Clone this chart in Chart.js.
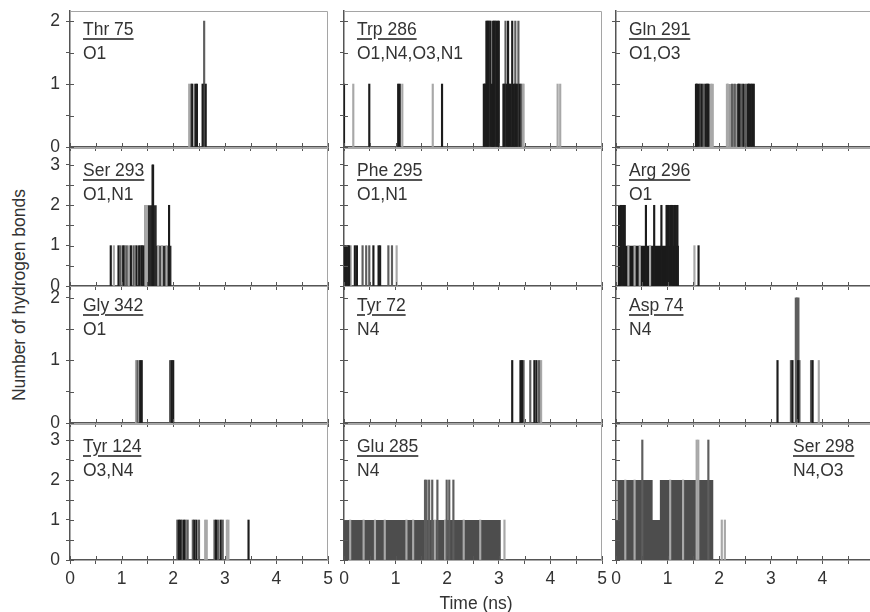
<!DOCTYPE html>
<html>
<head>
<meta charset="utf-8">
<script src="https://cdn.jsdelivr.net/npm/chart.js@4.4.1/dist/chart.umd.min.js"></script>
<style>
  html, body { margin:0; padding:0; width:870px; height:612px; overflow:hidden; background:#fff; }
  #stage { position:relative; width:870px; height:612px; overflow:hidden; }
  canvas { position:absolute; }
  .lbl { position:absolute; font-family:"Liberation Sans", Arial, sans-serif; font-size:17.5px; line-height:24px; color:#333; white-space:nowrap; }
  .lbl .res { text-decoration:underline; text-decoration-thickness:1.5px; text-underline-offset:3px; text-decoration-color:#555; }
  .title { position:absolute; font-family:"Liberation Sans", Arial, sans-serif; font-size:17.5px; color:#333; white-space:nowrap; }
</style>
</head>
<body>
<div id="stage"></div>
<script>
// ---------------- data (time in ns, number of hydrogen bonds) ----------------
const residues  = ['Thr 75','Trp 286','Gln 291','Ser 293','Phe 295','Arg 296','Gly 342','Tyr 72','Asp 74','Tyr 124','Glu 285','Ser 298'];
const atomSites = ['O1','O1,N4,O3,N1','O1,O3','O1,N1','O1,N1','O1','O1','N4','N4','O3,N4','N4','N4,O3'];
const xTickLabels = [0,1,2,3,4,5];
const yTickLabelsByRow = [[0,1,2],[0,1,2,3],[0,1,2],[0,1,2,3]];

const thr75Dark  = [[2.37,1],[2.43,1],[2.46,1],[2.57,1],[2.63,1]];
const thr75Mid   = [[2.35,1],[2.60,2]];
const thr75Light = [[2.31,1],[2.59,1]];
const thr75Block = [];

const trp286Dark  = [[0.0,1],[0.49,1],[1.05,1],[1.08,1],[1.90,1],[2.71,1],[2.73,1],[2.76,2],[2.78,2],[2.80,2],[2.84,2],[2.87,1],[2.89,2],[2.91,2],[2.95,2],[2.98,2],[3.00,2],[3.09,1],[3.11,1],[3.15,1],[3.18,2],[3.20,1],[3.23,1],[3.26,2],[3.29,1],[3.32,1],[3.35,1],[3.40,1]];
const trp286Mid   = [[2.74,1],[2.82,2],[2.93,2],[3.13,2],[3.32,2],[3.38,2],[3.43,1]];
const trp286Light = [[0.18,1],[1.13,1],[1.72,1],[3.46,1],[3.48,1],[4.14,1],[4.19,1]];
const trp286Block = [];

const gln291Dark  = [[1.55,1],[1.57,1],[1.60,1],[1.66,1],[1.74,1],[1.77,1],[1.79,1],[2.37,1],[2.39,1],[2.47,1],[2.56,1],[2.58,1],[2.61,1],[2.64,1],[2.67,1]];
const gln291Mid   = [[1.63,1],[1.70,1],[2.25,1],[2.30,1],[2.43,1],[2.52,1]];
const gln291Light = [[2.15,1],[2.17,1],[1.84,1],[1.87,1]];
const gln291Block = [[1.545,1],[1.89,0],[2.19,1],[2.68,0]];

const ser293Dark  = [[0.79,1],[0.94,1],[1.03,1],[1.18,1],[1.29,1],[1.34,1],[1.39,1],[1.42,1],[1.60,3],[1.61,3],[1.92,2]];
const ser293Mid   = [[0.98,1],[1.06,1],[1.10,1],[1.23,1],[1.37,1]];
const ser293Light = [[0.85,1],[1.14,1],[1.26,1],[1.46,2],[1.49,2],[1.71,1],[1.78,1],[1.87,1]];
const ser293Block = [[1.44,2],[1.68,1],[1.97,0]];

const phe295Dark  = [[0.02,1],[0.05,1],[0.08,1],[0.10,1],[0.21,1],[0.25,1],[0.57,1],[0.67,1],[0.70,1]];
const phe295Mid   = [[0.36,1],[0.43,1],[0.49,1],[0.86,1],[0.93,1]];
const phe295Light = [[0.13,1],[1.02,1]];
const phe295Block = [];

const arg296Dark  = [[0.06,2],[0.08,2],[0.11,2],[0.14,2],[0.17,2],[0.58,2],[0.74,2],[0.88,2],[0.98,2],[1.00,2],[1.02,2],[1.05,2],[1.08,2],[1.10,2],[1.13,2],[1.16,2],[1.19,2],[1.60,1]];
const arg296Mid   = [[0.12,2],[1.07,2]];
const arg296Light = [[0.24,1],[0.36,1],[0.46,1],[0.66,1],[1.52,1]];
const arg296Block = [[0.03,1],[1.22,0]];

const gly342Dark  = [[1.36,1],[1.39,1],[1.97,1],[2.00,1]];
const gly342Mid   = [[1.31,1],[1.94,1]];
const gly342Light = [[1.28,1]];
const gly342Block = [];

const tyr72Dark  = [[3.26,1],[3.42,1],[3.45,1],[3.69,1],[3.73,1]];
const tyr72Mid   = [[3.48,1],[3.61,1],[3.78,1]];
const tyr72Light = [[3.82,1]];
const tyr72Block = [];

const asp74Dark  = [[3.13,1],[3.42,1],[3.53,1],[3.81,1]];
const asp74Mid   = [[3.39,1],[3.485,2],[3.51,2],[3.535,2],[3.555,1],[3.78,1]];
const asp74Light = [[3.93,1]];
const asp74Block = [];

const tyr124Dark  = [[2.11,1],[2.14,1],[2.21,1],[2.41,1],[2.45,1],[2.83,1],[2.92,1],[3.46,1]];
const tyr124Mid   = [[2.08,1],[2.17,1],[2.24,1],[2.28,1],[2.38,1],[2.50,1],[2.80,1],[2.87,1],[2.96,1]];
const tyr124Light = [[2.62,1],[2.65,1],[3.04,1],[3.07,1]];
const tyr124Block = [];

const glu285Dark  = [];
const glu285Mid   = [[1.57,2],[1.60,2],[1.65,2],[1.71,2],[1.81,2],[1.99,2],[2.04,2],[2.12,2]];
const glu285Light = [[0.12,1],[0.38,1],[0.60,1],[0.79,1],[1.21,1],[1.34,1],[1.76,1],[1.96,1],[2.32,1],[2.64,1],[3.11,1]];
const glu285Block = [[0.0,1],[3.04,0]];

const ser298Dark  = [];
const ser298Mid   = [[0.51,3],[1.79,3]];
const ser298Light = [[1.563,3],[1.595,3],[0.18,2],[0.36,2],[1.05,2],[1.30,2],[2.05,1],[2.11,1]];
const ser298Block = [[0.0,1],[0.03,2],[0.71,1],[0.85,2],[1.89,0]];

const panelData = [
  {dark:thr75Dark,  mid:thr75Mid,  light:thr75Light,  block:thr75Block},
  {dark:trp286Dark, mid:trp286Mid, light:trp286Light, block:trp286Block},
  {dark:gln291Dark, mid:gln291Mid, light:gln291Light, block:gln291Block},
  {dark:ser293Dark, mid:ser293Mid, light:ser293Light, block:ser293Block},
  {dark:phe295Dark, mid:phe295Mid, light:phe295Light, block:phe295Block},
  {dark:arg296Dark, mid:arg296Mid, light:arg296Light, block:arg296Block},
  {dark:gly342Dark, mid:gly342Mid, light:gly342Light, block:gly342Block},
  {dark:tyr72Dark,  mid:tyr72Mid,  light:tyr72Light,  block:tyr72Block},
  {dark:asp74Dark,  mid:asp74Mid,  light:asp74Light,  block:asp74Block},
  {dark:tyr124Dark, mid:tyr124Mid, light:tyr124Light, block:tyr124Block},
  {dark:glu285Dark, mid:glu285Mid, light:glu285Light, block:glu285Block},
  {dark:ser298Dark, mid:ser298Mid, light:ser298Light, block:ser298Block}
];

// ---------------- layout / style ----------------
const COL_LEFT = [70, 344, 616];
const PLOT_W = 258;
const ROWS = [
  {top:11,  h:136, max:2.16, lblOff:24},
  {top:148, h:138, max:3.42, lblOff:28.5},
  {top:286, h:137, max:2.19, lblOff:25},
  {top:424, h:136, max:3.40, lblOff:28}
];
const BLOCK_SHADE = ['#777','#777','#9a9a9a','#2a2a2a','#777','#1a1a1a','#777','#777','#777','#777','#4d4d4d','#4d4d4d'];
const SHADE = {dark:'#1c1c1c', mid:'#5e5e5e', light:'#a8a8a8'};
const FONT = {family:'"Liberation Sans", Arial, sans-serif', size:17.5};
const AXIS = '#555';
const PAD_R = 10;

const frameAndInnerTicks = {
  id:'frameAndInnerTicks',
  afterDraw(chart){
    const {ctx, chartArea:a, scales:{x, y}} = chart;
    ctx.save();
    ctx.strokeStyle = '#a5a5a5';
    ctx.lineWidth = 1;
    ctx.beginPath();
    ctx.moveTo(a.left, a.top + 0.5);
    ctx.lineTo(a.right - 0.5, a.top + 0.5);
    ctx.lineTo(a.right - 0.5, a.bottom);
    ctx.stroke();
    ctx.strokeStyle = AXIS;
    ctx.beginPath();
    x.ticks.forEach(t => { const px = Math.round(x.getPixelForValue(t.value)) + 0.5; ctx.moveTo(px, a.bottom); ctx.lineTo(px, a.bottom - 4); });
    y.ticks.forEach(t => { const py = Math.round(y.getPixelForValue(t.value)) + 0.5; ctx.moveTo(a.left, py); ctx.lineTo(a.left + 4, py); });
    ctx.stroke();
    ctx.restore();
  }
};

const stage = document.getElementById('stage');
const toXY = arr => arr.map(([t, n]) => ({x:t, y:n}));

panelData.forEach((p, i) => {
  const r = Math.floor(i / 3), c = i % 3;
  const row = ROWS[r];
  const L = COL_LEFT[c], T = row.top, H = row.h, W = PLOT_W;
  const cv = document.createElement('canvas');
  cv.width = W + 40 + PAD_R; cv.height = H + 33;
  cv.style.left = (L - 40) + 'px';
  cv.style.top = (T - 1) + 'px';
  stage.appendChild(cv);

  const datasets = [
    {type:'bar', data:toXY(p.dark),  backgroundColor:SHADE.dark,  order:0},
    {type:'bar', data:toXY(p.mid),   backgroundColor:SHADE.mid,   order:1},
    {type:'bar', data:toXY(p.light), backgroundColor:SHADE.light, order:2},
    {type:'line', data:toXY(p.block), stepped:true, fill:'origin', backgroundColor:BLOCK_SHADE[i],
     borderColor:'rgba(0,0,0,0)', borderWidth:0, pointRadius:0, order:3}
  ];

  new Chart(cv, {
    type:'bar',
    data:{datasets},
    options:{
      responsive:false, animation:false, events:[],
      devicePixelRatio:1,
      layout:{padding:{top:1, right:PAD_R, left:0, bottom:2}},
      datasets:{bar:{grouped:false, barThickness:1.5, borderWidth:0}},
      plugins:{legend:{display:false}, tooltip:{enabled:false}},
      scales:{
        x:{
          type:'linear', min:0, max:5, offset:false, z:1,
          border:{display:true, color:AXIS, width:1.5},
          grid:{display:true, drawOnChartArea:false, drawTicks:true, tickLength:4, color:AXIS, offset:false},
          ticks:{stepSize:0.5, autoSkip:false, maxRotation:0, padding:5, color:'#333', font:FONT,
                 callback:v => (r === 3 && xTickLabels.includes(v)) ? String(v) : ''},
          afterFit:s => { s.height = 30; s.paddingLeft = 0; s.paddingRight = 0; s.paddingTop = 0; s.paddingBottom = 0; }
        },
        y:{
          type:'linear', min:0, max:row.max, z:1,
          border:{display:true, color:AXIS, width:1.5},
          grid:{display:true, drawOnChartArea:false, drawTicks:true, tickLength:4, color:AXIS},
          ticks:{stepSize:0.5, includeBounds:false, autoSkip:false, padding:6, color:'#333', font:FONT,
                 callback:v => (c === 0 && yTickLabelsByRow[r].includes(v)) ? String(v) : ''},
          afterFit:s => { s.width = 40; s.paddingLeft = 0; s.paddingRight = 0; s.paddingTop = 0; s.paddingBottom = 0; }
        }
      }
    },
    plugins:[frameAndInnerTicks]
  });

  // panel label (residue underlined, atoms below)
  const lbl = document.createElement('div');
  lbl.className = 'lbl';
  const left = (i === 11) ? 793 : L + 13;
  lbl.style.left = left + 'px';
  lbl.style.top = (T + row.lblOff - 18.1) + 'px';
  const res = document.createElement('span');
  res.className = 'res';
  res.textContent = residues[i];
  lbl.appendChild(res);
  lbl.appendChild(document.createElement('br'));
  lbl.appendChild(document.createTextNode(atomSites[i]));
  stage.appendChild(lbl);
});

// axis titles
const yt = document.createElement('div');
yt.className = 'title';
yt.textContent = 'Number of hydrogen bonds';
yt.style.left = '19px'; yt.style.top = '295px';
yt.style.transform = 'translate(-50%,-50%) rotate(-90deg)';
stage.appendChild(yt);

const xt = document.createElement('div');
xt.className = 'title';
xt.textContent = 'Time (ns)';
xt.style.left = '476px'; xt.style.top = '603px';
xt.style.transform = 'translate(-50%,-50%)';
stage.appendChild(xt);
</script>
</body>
</html>
